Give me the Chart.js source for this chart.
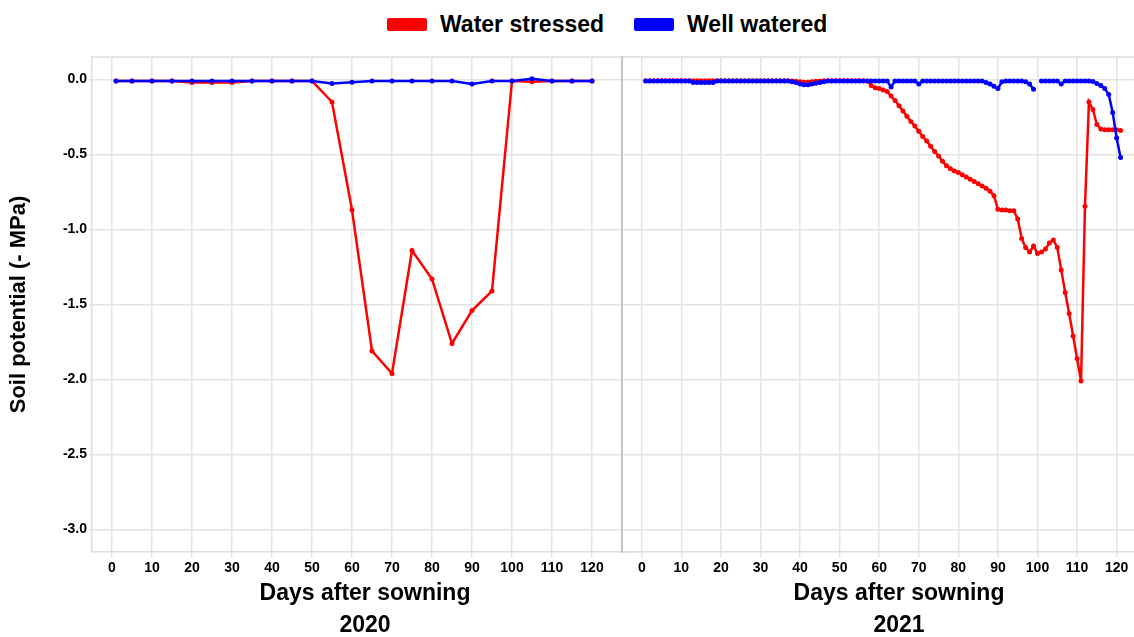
<!DOCTYPE html>
<html>
<head>
<meta charset="utf-8">
<script src="https://cdn.jsdelivr.net/npm/chart.js@4.4.1/dist/chart.umd.min.js"></script>
<style>
  html, body { margin: 0; padding: 0; background: #fff; }
  body { width: 1134px; height: 637px; overflow: hidden; position: relative; font-family: "Liberation Sans", Arial, sans-serif; }
  #left { position: absolute; left: 0; top: 0; }
  #right { position: absolute; left: 618px; top: 0; }
  .legend { position: absolute; top: 10px; left: 387px; display: flex; align-items: center; font-weight: bold; font-size: 23px; line-height: 28px; color: #000; white-space: nowrap; }
  .legend .item { display: flex; align-items: center; margin-right: 30px; }
  .legend .box { width: 40px; height: 13px; margin-right: 13px; border-radius: 2px; }
</style>
</head>
<body>
<div class="legend">
  <div class="item"><span class="box" style="background:#ff0000"></span>Water stressed</div>
  <div class="item"><span class="box" style="background:#0000ff"></span>Well watered</div>
</div>
<canvas id="left" width="642" height="650"></canvas>
<canvas id="right" width="562" height="650"></canvas>
<script>
// 2020 season, readings every 5 days
const days2020 = [1, 5, 10, 15, 20, 25, 30, 35, 40, 45, 50, 55, 60, 65, 70, 75, 80, 85, 90, 95, 100, 105, 110, 115, 120];
const stressed2020 = [-0.01, -0.01, -0.01, -0.01, -0.02, -0.02, -0.02, -0.01, -0.01, -0.01, -0.01, -0.15, -0.87, -1.81, -1.96, -1.14, -1.33, -1.76, -1.54, -1.41, -0.01, -0.015, -0.01, -0.01, -0.01];
const watered2020 = [-0.01, -0.01, -0.01, -0.01, -0.01, -0.01, -0.01, -0.01, -0.01, -0.01, -0.01, -0.027, -0.018, -0.01, -0.01, -0.01, -0.01, -0.01, -0.03, -0.01, -0.01, 0.005, -0.01, -0.01, -0.01];

// 2021 season, daily readings
const days2021 = [
  1, 2, 3, 4, 5, 6, 7, 8, 9, 10,
  11, 12, 13, 14, 15, 16, 17, 18, 19, 20,
  21, 22, 23, 24, 25, 26, 27, 28, 29, 30,
  31, 32, 33, 34, 35, 36, 37, 38, 39, 40,
  41, 42, 43, 44, 45, 46, 47, 48, 49, 50,
  51, 52, 53, 54, 55, 56, 57, 58, 59, 60,
  61, 62, 63, 64, 65, 66, 67, 68, 69, 70,
  71, 72, 73, 74, 75, 76, 77, 78, 79, 80,
  81, 82, 83, 84, 85, 86, 87, 88, 89, 90,
  91, 92, 93, 94, 95, 96, 97, 98, 99, 100,
  101, 102, 103, 104, 105, 106, 107, 108, 109, 110,
  111, 112, 113, 114, 115, 116, 117, 118, 119, 120,
  121
];
const stressed2021 = [
  -0.008, -0.008, -0.008, -0.008, -0.008, -0.008, -0.008, -0.008, -0.008, -0.008,
  -0.008, -0.008, -0.008, -0.008, -0.008, -0.008, -0.008, -0.008, -0.008, -0.008,
  -0.008, -0.008, -0.008, -0.008, -0.008, -0.008, -0.008, -0.008, -0.008, -0.008,
  -0.008, -0.008, -0.008, -0.008, -0.008, -0.008, -0.008, -0.01, -0.012, -0.015,
  -0.018, -0.018, -0.015, -0.012, -0.01, -0.008, -0.008, -0.008, -0.008, -0.008,
  -0.008, -0.008, -0.008, -0.008, -0.008, -0.008, -0.01, -0.04, -0.055, -0.06,
  -0.07, -0.08, -0.11, -0.14, -0.175, -0.21, -0.245, -0.28, -0.31, -0.345,
  -0.38, -0.41, -0.445, -0.48, -0.51, -0.545, -0.575, -0.595, -0.61, -0.62,
  -0.635, -0.65, -0.665, -0.68, -0.695, -0.71, -0.725, -0.745, -0.775, -0.865,
  -0.87, -0.87, -0.875, -0.875, -0.93, -1.06, -1.12, -1.15, -1.11, -1.16,
  -1.15, -1.13, -1.09, -1.07, -1.12, -1.27, -1.42, -1.56, -1.71, -1.86,
  -2.01, -0.845, -0.15, -0.2, -0.3, -0.33, -0.335, -0.335, -0.335, -0.335,
  -0.34
];
const watered2021 = [
  -0.01, -0.01, -0.01, -0.01, -0.01, -0.01, -0.01, -0.01, -0.01, -0.01,
  -0.01, -0.01, -0.02, -0.02, -0.02, -0.02, -0.02, -0.02, -0.01, -0.01,
  -0.01, -0.01, -0.01, -0.01, -0.01, -0.01, -0.01, -0.01, -0.01, -0.01,
  -0.01, -0.01, -0.01, -0.01, -0.01, -0.01, -0.01, -0.015, -0.02, -0.03,
  -0.035, -0.035, -0.03, -0.025, -0.02, -0.015, -0.01, -0.01, -0.01, -0.01,
  -0.01, -0.01, -0.01, -0.01, -0.01, -0.01, -0.01, -0.01, -0.01, -0.01,
  -0.01, -0.01, -0.05, -0.01, -0.01, -0.01, -0.01, -0.01, -0.01, -0.03,
  -0.01, -0.01, -0.01, -0.01, -0.01, -0.01, -0.01, -0.01, -0.01, -0.01,
  -0.01, -0.01, -0.01, -0.01, -0.01, -0.01, -0.02, -0.03, -0.045, -0.06,
  -0.015, -0.01, -0.01, -0.01, -0.01, -0.01, -0.015, -0.03, -0.065, null,
  -0.01, -0.01, -0.01, -0.01, -0.01, -0.03, -0.01, -0.01, -0.01, -0.01,
  -0.01, -0.01, -0.01, -0.013, -0.027, -0.04, -0.06, -0.1, -0.22, -0.39,
  -0.52
];

const xTicks = [0, 10, 20, 30, 40, 50, 60, 70, 80, 90, 100, 110, 120];
const yTicks = [-3, -2.5, -2, -1.5, -1, -0.5, 0];

const RED = "#ff0000";
const BLUE = "#0000ff";
const GRID = "#e3e3e3";

Chart.defaults.font.family = '"Liberation Sans", Arial, sans-serif';
Chart.defaults.color = "#000";

const pts = (xs, ys) => xs.map((x, i) => ({ x: x, y: ys[i] }));

// top edge of the plot frame + white plot background
const framePlugin = {
  id: "frame",
  beforeDraw(chart) {
    const a = chart.chartArea;
    const ctx = chart.ctx;
    ctx.save();
    ctx.fillStyle = "#fff";
    ctx.fillRect(a.left, a.top, a.right - a.left, a.bottom - a.top);
    ctx.restore();
  },
  afterDraw(chart) {
    const a = chart.chartArea;
    const ctx = chart.ctx;
    ctx.save();
    ctx.strokeStyle = "#dcdcdc";
    ctx.lineWidth = 1.5;
    ctx.beginPath();
    ctx.moveTo(a.left, a.top);
    ctx.lineTo(a.right, a.top);
    ctx.stroke();
    ctx.restore();
  }
};

function datasets(days, stressed, watered) {
  return [
    { label: "Water stressed", data: pts(days, stressed), borderColor: RED, backgroundColor: RED, pointBackgroundColor: RED, pointBorderColor: RED, order: 1 },
    { label: "Well watered", data: pts(days, watered), borderColor: BLUE, backgroundColor: BLUE, pointBackgroundColor: BLUE, pointBorderColor: BLUE, order: 0 }
  ];
}

function xScale(min, max, year) {
  return {
    type: "linear",
    min: min,
    max: max,
    afterBuildTicks: s => { s.ticks = xTicks.map(v => ({ value: v })); },
    afterFit: s => { s.height = 98; },
    grid: { color: GRID, lineWidth: 1.5, tickLength: 5 },
    border: { color: "#dcdcdc", width: 1.5 },
    ticks: { font: { size: 14, weight: "bold" }, padding: 3, maxRotation: 0 },
    title: {
      display: true,
      text: ["Days after sowning", year],
      font: { size: 23, weight: "bold", lineHeight: "32px" },
      padding: { top: 0, bottom: 8 }
    }
  };
}

const baseOptions = {
  responsive: false,
  animation: false,
  elements: {
    line: { borderWidth: 2.5, tension: 0 },
    point: { radius: 2.5, borderWidth: 0 }
  },
  plugins: { legend: { display: false }, tooltip: { enabled: false } }
};

new Chart(document.getElementById("left"), {
  type: "line",
  data: { datasets: datasets(days2020, stressed2020, watered2020) },
  plugins: [framePlugin],
  options: Object.assign({}, baseOptions, {
    layout: { padding: { top: 57, left: 0, right: 0, bottom: 0 } },
    scales: {
      x: xScale(-5, 131.5, "2020"),
      y: {
        min: -3.15,
        max: 0.15,
        afterBuildTicks: s => { s.ticks = yTicks.map(v => ({ value: v })); },
        afterFit: s => { s.width = 92; },
        grid: { color: GRID, lineWidth: 1.5, tickLength: 3 },
        border: { color: "#dcdcdc", width: 1.5 },
        ticks: { font: { size: 14, weight: "bold" }, padding: 2, callback: v => v.toFixed(1) },
        title: {
          display: true,
          text: "Soil potential (- MPa)",
          font: { size: 22, weight: "bold" },
          padding: { top: 6, bottom: 0 }
        }
      }
    }
  })
});

new Chart(document.getElementById("right"), {
  type: "line",
  data: { datasets: datasets(days2021, stressed2021, watered2021) },
  plugins: [framePlugin],
  options: Object.assign({}, baseOptions, {
    layout: { padding: { top: 57, left: 2, right: 0, bottom: 0 } },
    scales: {
      x: xScale(-5, 135, "2021"),
      y: {
        min: -3.15,
        max: 0.15,
        afterBuildTicks: s => { s.ticks = yTicks.map(v => ({ value: v })); },
        afterFit: s => { s.width = 0; },
        grid: { color: GRID, lineWidth: 1.5, drawTicks: false },
        border: { color: "#c4c4c4", width: 2 },
        ticks: { display: false }
      }
    }
  })
});
</script>
</body>
</html>
